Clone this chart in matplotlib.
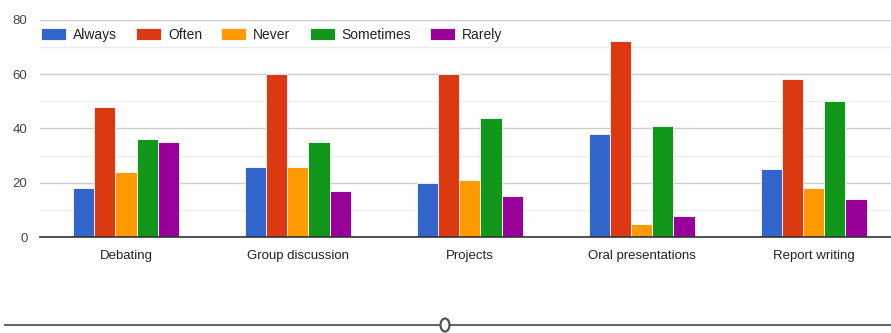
import matplotlib

matplotlib.use("Agg")
import matplotlib.pyplot as plt
import numpy as np
from matplotlib.lines import Line2D
from matplotlib.patches import Ellipse
from matplotlib.ticker import MultipleLocator

activities = ["Debating", "Group discussion", "Projects", "Oral presentations", "Report writing"]
series_names = ["Always", "Often", "Never", "Sometimes", "Rarely"]
always = [18, 26, 20, 38, 25]
often = [48, 60, 60, 72, 58]
never = [24, 26, 21, 5, 18]
sometimes = [36, 35, 44, 41, 50]
rarely = [35, 17, 15, 8, 14]
colors = ["#3366cc", "#dc3912", "#ff9900", "#109618", "#990099"]

plt.rcParams["font.family"] = ["Liberation Sans", "DejaVu Sans"]

W, H = 891, 333
fig = plt.figure(figsize=(W / 100, H / 100), dpi=100)
ax = fig.add_axes([40 / W, (H - 237.3) / H, 1 - 40 / W, (237.3 - 19.6) / H])

x = np.arange(len(activities))
bar_w = 0.123
values = [always, often, never, sometimes, rarely]
for i, (name, vals, col) in enumerate(zip(series_names, values, colors)):
    ax.bar(x + (i - 2) * bar_w, vals, width=bar_w, color=col, label=name,
           edgecolor="white", linewidth=0.6, zorder=3)

ax.set_ylim(0, 80)
ax.set_xlim(-0.5, 4.45)
ax.yaxis.set_major_locator(MultipleLocator(20))
ax.yaxis.set_minor_locator(MultipleLocator(10))
ax.grid(axis="y", which="major", color="#cccccc", linewidth=1, zorder=0)
ax.grid(axis="y", which="minor", color="#ebebeb", linewidth=1, zorder=0)
for side in ["top", "right", "left"]:
    ax.spines[side].set_visible(False)
ax.spines["bottom"].set_color("#333333")
ax.spines["bottom"].set_linewidth(1.2)
ax.spines["bottom"].set_zorder(4)

ax.set_xticks(x)
ax.set_xticklabels(activities)
ax.tick_params(axis="x", length=0, pad=9.5, labelsize=9.5, labelcolor="#222222")
ax.tick_params(axis="y", which="both", length=0, pad=9, labelsize=9.5, labelcolor="#444444")

leg = ax.legend(loc="upper left", bbox_to_anchor=(0.001, 0.962), ncol=5, frameon=False,
                fontsize=10, handlelength=1.8, handleheight=0.9, handletextpad=0.5,
                columnspacing=1.38, borderaxespad=0, borderpad=0)
for t in leg.get_texts():
    t.set_color("#222222")

# slider strip below the chart
fig.add_artist(Line2D([5 / W, 1.0], [(H - 325) / H] * 2, color="#555555", linewidth=1.3))
fig.add_artist(Ellipse((445 / W, (H - 325) / H), 9 / W, 13 / H, facecolor="white",
                       edgecolor="#555555", linewidth=1.6, zorder=5))

fig.savefig("out.png", dpi=100)
